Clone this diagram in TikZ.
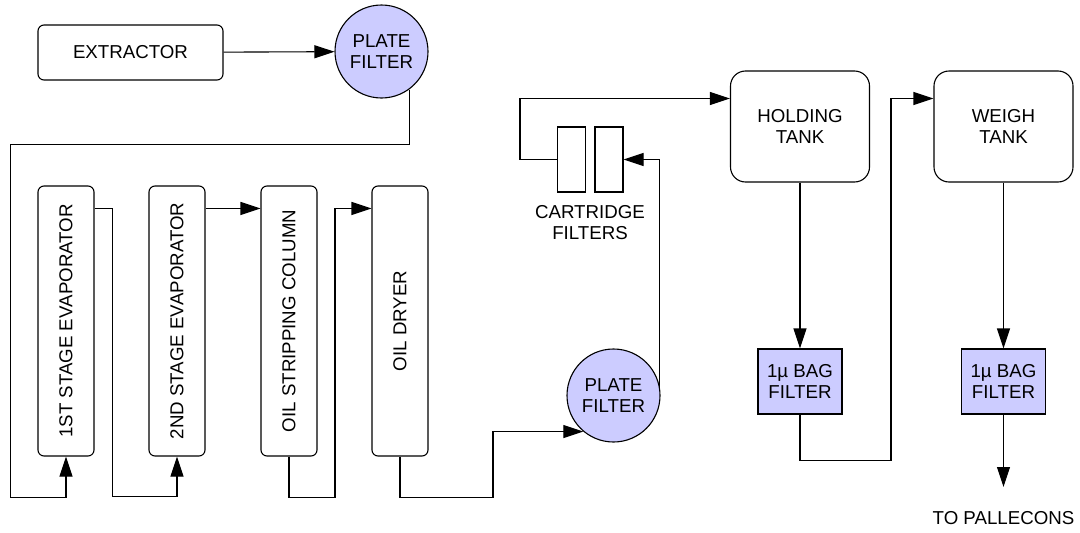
\documentclass[tikz,border=0pt]{standalone}
\usepackage{fontspec}
\setmainfont{Liberation Sans}
\usepackage{tikz}
\usetikzlibrary{
  arrows.meta,
  positioning
}
\usepackage{xcolor}
\definecolor{filterfill}{RGB}{204,204,255}

\begin{document}
\begin{tikzpicture}[
  x=1pt, y=-1pt,
  every node/.style={font=\fontsize{18.7}{21}\selectfont, inner sep=0pt},
  unit/.style={draw, line width=1.1pt, rounded corners=6pt, align=center},
  col/.style={draw, line width=1.1pt, rounded corners=6pt,
              minimum width=56pt, minimum height=270pt},
  tank/.style={draw, line width=1.1pt, rounded corners=15pt, align=center,
               minimum width=139pt, minimum height=111pt},
  plate/.style={draw, line width=1.1pt, circle, fill=filterfill,
                minimum size=93pt, align=center},
  bag/.style={draw, line width=1.1pt, fill=filterfill, align=center,
              minimum width=84pt, minimum height=65pt},
  cart/.style={draw, line width=1.1pt, minimum width=28pt, minimum height=65pt},
  note/.style={align=center},
  flow/.style={line width=1.1pt, -{Triangle[length=20pt, width=13pt]}}
]
\useasboundingbox (0,0) rectangle (1080,533);

\node[unit, minimum width=185pt, minimum height=55pt] (extractor) at (130.5,52.5) {EXTRACTOR};
\node[plate] (pfA) at (381.5,51.5) {PLATE\\FILTER};

\node[col] (evap1) at (66,321)  {\rotatebox{90}{1ST STAGE EVAPORATOR}};
\node[col] (evap2) at (177,321) {\rotatebox{90}{2ND STAGE EVAPORATOR}};
\node[col] (strip) at (289,321) {\rotatebox{90}{OIL STRIPPING COLUMN}};
\node[col] (dryer) at (400,321) {\rotatebox{90}{OIL DRYER}};

\node[plate] (pfB) at (613.5,395.5) {PLATE\\FILTER};

\node[cart] (cartA) at (571.5,159.5) {};
\node[cart] (cartB) at (609,159.5) {};
\node[note] (cartlbl) at (590,223) {CARTRIDGE\\FILTERS};

\node[tank] (hold)  at (800,126.5)    {HOLDING\\TANK};
\node[tank] (weigh) at (1003.5,126.5) {WEIGH\\TANK};

\node[bag] (bagA) at (800,381.5)    {1µ BAG\\FILTER};
\node[bag] (bagB) at (1003.5,381.5) {1µ BAG\\FILTER};

\coordinate (out) at (1003.5,487);
\node[note] (pallecons) at (1003.5,518) {TO PALLECONS};

% feed to the evaporators
\draw[flow] (extractor) -- (pfA);
\draw[flow] (pfA.-54) -- ++(0,55) -- ++(-399,0) -- ++(0,353) -| (evap1.south);
\draw[flow] ([yshift=-23pt]evap1.north east) -- ++(18,0) -- ++(0,288) -| (evap2.south);
\draw[flow] ([yshift=-23pt]evap2.north east) -- ([yshift=-23pt]strip.north west);
\draw[flow] (strip.south) -- ++(0,41) -- ++(46,0) |- ([yshift=-23pt]dryer.north west);
\draw[flow] (dryer.south) -- ++(0,41) -- ++(93,0) |- (pfB.230);

% filtering and tanks
\draw[flow] (pfB.10) |- (cartB.east);
\draw[flow] (cartA.west) -- ++(-37,0) |- ([yshift=28pt]hold.west);
\draw[flow] (hold) -- (bagA);
\draw[flow] (bagA.south) -- ++(0,46) -- ++(91,0) |- ([yshift=28pt]weigh.west);
\draw[flow] (weigh) -- (bagB);
\draw[flow] (bagB) -- (out);

\end{tikzpicture}
\end{document}
